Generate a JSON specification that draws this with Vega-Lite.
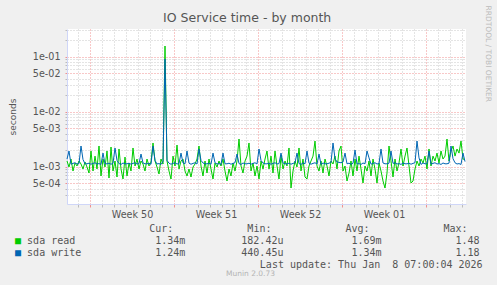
{
 "$schema": "https://vega.github.io/schema/vega-lite/v6.json",
 "background": "#F0F0F0",
 "padding": {"left": 8, "top": 5, "right": 6, "bottom": 7},
 "config": {"font": "DejaVu Sans", "view": {"stroke": null}},
 "datasets": {
  "boxes": [
   {"row": "read", "stat": "name", "series": "sda read", "label": "\u25a0"},
   {"row": "write", "stat": "name", "series": "sda write", "label": "\u25a0"}
  ],
  "stats": [
   {"row": "hdr", "stat": "Cur", "label": "Cur:"},
   {"row": "hdr", "stat": "Min", "label": "Min:"},
   {"row": "hdr", "stat": "Avg", "label": "Avg:"},
   {"row": "hdr", "stat": "Max", "label": "Max:"},
   {"row": "read", "stat": "name", "label": "sda read"},
   {"row": "read", "stat": "Cur", "label": "1.34m"},
   {"row": "read", "stat": "Min", "label": "182.42u"},
   {"row": "read", "stat": "Avg", "label": "1.69m"},
   {"row": "read", "stat": "Max", "label": "1.48"},
   {"row": "write", "stat": "name", "label": "sda write"},
   {"row": "write", "stat": "Cur", "label": "1.24m"},
   {"row": "write", "stat": "Min", "label": "440.45u"},
   {"row": "write", "stat": "Avg", "label": "1.34m"},
   {"row": "write", "stat": "Max", "label": "1.18"},
   {"row": "upd", "stat": "Max", "label": "Last update: Thu Jan \u00a08 07:00:04 2026"}
  ],
  "io": [
   {"t": "2025-12-06T02:00Z", "read": 1.27e-3, "write": 1.38e-3},
   {"t": "2025-12-06T06:00Z", "read": 9.87e-4, "write": 1.93e-3},
   {"t": "2025-12-06T10:00Z", "read": 1.38e-3, "write": 1.11e-3},
   {"t": "2025-12-06T14:00Z", "read": 8.35e-4, "write": 1.15e-3},
   {"t": "2025-12-06T18:00Z", "read": 1.17e-3, "write": 1.18e-3},
   {"t": "2025-12-06T22:00Z", "read": 1.03e-3, "write": 1.12e-3},
   {"t": "2025-12-07T02:00Z", "read": 1.27e-3, "write": 1.14e-3},
   {"t": "2025-12-07T06:00Z", "read": 1.12e-3, "write": 2.38e-3},
   {"t": "2025-12-07T10:00Z", "read": 9.08e-4, "write": 1.35e-3},
   {"t": "2025-12-07T14:00Z", "read": 1.22e-3, "write": 1.13e-3},
   {"t": "2025-12-07T18:00Z", "read": 9.87e-4, "write": 1.13e-3},
   {"t": "2025-12-07T22:00Z", "read": 7.68e-4, "write": 1.16e-3},
   {"t": "2025-12-08T02:00Z", "read": 1.93e-3, "write": 1.11e-3},
   {"t": "2025-12-08T06:00Z", "read": 8.35e-4, "write": 1.15e-3},
   {"t": "2025-12-08T10:00Z", "read": 1.56e-3, "write": 1.18e-3},
   {"t": "2025-12-08T14:00Z", "read": 9.08e-4, "write": 1.12e-3},
   {"t": "2025-12-08T18:00Z", "read": 2.38e-3, "write": 1.14e-3},
   {"t": "2025-12-08T22:00Z", "read": 6.78e-4, "write": 1.10e-3},
   {"t": "2025-12-09T02:00Z", "read": 1.38e-3, "write": 1.77e-3},
   {"t": "2025-12-09T06:00Z", "read": 9.87e-4, "write": 1.13e-3},
   {"t": "2025-12-09T10:00Z", "read": 1.93e-3, "write": 1.13e-3},
   {"t": "2025-12-09T14:00Z", "read": 6.23e-4, "write": 1.16e-3},
   {"t": "2025-12-09T18:00Z", "read": 2.28e-3, "write": 1.11e-3},
   {"t": "2025-12-09T22:00Z", "read": 8.35e-4, "write": 1.15e-3},
   {"t": "2025-12-10T02:00Z", "read": 1.27e-3, "write": 2.19e-3},
   {"t": "2025-12-10T06:00Z", "read": 6.50e-4, "write": 1.30e-3},
   {"t": "2025-12-10T10:00Z", "read": 2.10e-3, "write": 1.14e-3},
   {"t": "2025-12-10T14:00Z", "read": 9.08e-4, "write": 1.10e-3},
   {"t": "2025-12-10T18:00Z", "read": 5.98e-4, "write": 1.17e-3},
   {"t": "2025-12-10T22:00Z", "read": 1.50e-3, "write": 1.13e-3},
   {"t": "2025-12-11T02:00Z", "read": 6.78e-4, "write": 1.13e-3},
   {"t": "2025-12-11T06:00Z", "read": 1.17e-3, "write": 1.16e-3},
   {"t": "2025-12-11T10:00Z", "read": 8.35e-4, "write": 1.11e-3},
   {"t": "2025-12-11T14:00Z", "read": 2.19e-3, "write": 1.15e-3},
   {"t": "2025-12-11T18:00Z", "read": 1.03e-3, "write": 1.18e-3},
   {"t": "2025-12-11T22:00Z", "read": 1.38e-3, "write": 1.12e-3},
   {"t": "2025-12-12T02:00Z", "read": 9.08e-4, "write": 1.14e-3},
   {"t": "2025-12-12T06:00Z", "read": 1.27e-3, "write": 1.70e-3},
   {"t": "2025-12-12T10:00Z", "read": 1.12e-3, "write": 1.17e-3},
   {"t": "2025-12-12T14:00Z", "read": 8.35e-4, "write": 1.13e-3},
   {"t": "2025-12-12T18:00Z", "read": 1.38e-3, "write": 1.13e-3},
   {"t": "2025-12-12T22:00Z", "read": 1.03e-3, "write": 1.16e-3},
   {"t": "2025-12-13T02:00Z", "read": 1.22e-3, "write": 1.11e-3},
   {"t": "2025-12-13T06:00Z", "read": 2.70e-3, "write": 2.38e-3},
   {"t": "2025-12-13T10:00Z", "read": 1.27e-3, "write": 1.30e-3},
   {"t": "2025-12-13T14:00Z", "read": 9.87e-4, "write": 1.12e-3},
   {"t": "2025-12-13T18:00Z", "read": 7.37e-4, "write": 1.14e-3},
   {"t": "2025-12-13T22:00Z", "read": 1.38e-3, "write": 1.10e-3},
   {"t": "2025-12-14T02:00Z", "read": 1.12e-3, "write": 1.25e-3},
   {"t": "2025-12-14T06:00Z", "read": 0.1565, "write": 0.0908},
   {"t": "2025-12-14T10:00Z", "read": 1.27e-3, "write": 1.30e-3},
   {"t": "2025-12-14T14:00Z", "read": 8.35e-4, "write": 1.16e-3},
   {"t": "2025-12-14T18:00Z", "read": 5.98e-4, "write": 1.11e-3},
   {"t": "2025-12-14T22:00Z", "read": 1.56e-3, "write": 1.15e-3},
   {"t": "2025-12-15T02:00Z", "read": 1.03e-3, "write": 1.18e-3},
   {"t": "2025-12-15T06:00Z", "read": 2.48e-3, "write": 1.12e-3},
   {"t": "2025-12-15T10:00Z", "read": 9.08e-4, "write": 1.14e-3},
   {"t": "2025-12-15T14:00Z", "read": 1.27e-3, "write": 1.77e-3},
   {"t": "2025-12-15T18:00Z", "read": 1.38e-3, "write": 1.17e-3},
   {"t": "2025-12-15T22:00Z", "read": 8.35e-4, "write": 1.13e-3},
   {"t": "2025-12-16T02:00Z", "read": 6.78e-4, "write": 1.93e-3},
   {"t": "2025-12-16T06:00Z", "read": 9.08e-4, "write": 1.16e-3},
   {"t": "2025-12-16T10:00Z", "read": 6.50e-4, "write": 1.11e-3},
   {"t": "2025-12-16T14:00Z", "read": 9.87e-4, "write": 1.15e-3},
   {"t": "2025-12-16T18:00Z", "read": 1.12e-3, "write": 1.18e-3},
   {"t": "2025-12-16T22:00Z", "read": 1.38e-3, "write": 1.12e-3},
   {"t": "2025-12-17T02:00Z", "read": 2.38e-3, "write": 2.10e-3},
   {"t": "2025-12-17T06:00Z", "read": 1.03e-3, "write": 1.30e-3},
   {"t": "2025-12-17T10:00Z", "read": 6.78e-4, "write": 1.17e-3},
   {"t": "2025-12-17T14:00Z", "read": 1.27e-3, "write": 1.13e-3},
   {"t": "2025-12-17T18:00Z", "read": 7.68e-4, "write": 1.13e-3},
   {"t": "2025-12-17T22:00Z", "read": 1.38e-3, "write": 1.16e-3},
   {"t": "2025-12-18T02:00Z", "read": 9.08e-4, "write": 1.11e-3},
   {"t": "2025-12-18T06:00Z", "read": 5.98e-4, "write": 1.77e-3},
   {"t": "2025-12-18T10:00Z", "read": 1.17e-3, "write": 1.18e-3},
   {"t": "2025-12-18T14:00Z", "read": 9.87e-4, "write": 1.12e-3},
   {"t": "2025-12-18T18:00Z", "read": 1.27e-3, "write": 1.14e-3},
   {"t": "2025-12-18T22:00Z", "read": 1.03e-3, "write": 1.10e-3},
   {"t": "2025-12-19T02:00Z", "read": 1.38e-3, "write": 1.77e-3},
   {"t": "2025-12-19T06:00Z", "read": 8.35e-4, "write": 1.13e-3},
   {"t": "2025-12-19T10:00Z", "read": 5.50e-4, "write": 1.13e-3},
   {"t": "2025-12-19T14:00Z", "read": 9.08e-4, "write": 1.16e-3},
   {"t": "2025-12-19T18:00Z", "read": 6.78e-4, "write": 1.11e-3},
   {"t": "2025-12-19T22:00Z", "read": 1.17e-3, "write": 1.15e-3},
   {"t": "2025-12-20T02:00Z", "read": 8.35e-4, "write": 1.18e-3},
   {"t": "2025-12-20T06:00Z", "read": 1.27e-3, "write": 1.70e-3},
   {"t": "2025-12-20T10:00Z", "read": 3.19e-3, "write": 1.14e-3},
   {"t": "2025-12-20T14:00Z", "read": 1.03e-3, "write": 1.10e-3},
   {"t": "2025-12-20T18:00Z", "read": 7.68e-4, "write": 1.17e-3},
   {"t": "2025-12-20T22:00Z", "read": 1.27e-3, "write": 1.13e-3},
   {"t": "2025-12-21T02:00Z", "read": 1.56e-3, "write": 1.13e-3},
   {"t": "2025-12-21T06:00Z", "read": 2.70e-3, "write": 1.16e-3},
   {"t": "2025-12-21T10:00Z", "read": 8.35e-4, "write": 1.11e-3},
   {"t": "2025-12-21T14:00Z", "read": 1.17e-3, "write": 1.15e-3},
   {"t": "2025-12-21T18:00Z", "read": 6.78e-4, "write": 1.18e-3},
   {"t": "2025-12-21T22:00Z", "read": 1.03e-3, "write": 1.12e-3},
   {"t": "2025-12-22T02:00Z", "read": 5.98e-4, "write": 2.10e-3},
   {"t": "2025-12-22T06:00Z", "read": 1.27e-3, "write": 1.30e-3},
   {"t": "2025-12-22T10:00Z", "read": 9.08e-4, "write": 1.17e-3},
   {"t": "2025-12-22T14:00Z", "read": 1.38e-3, "write": 1.13e-3},
   {"t": "2025-12-22T18:00Z", "read": 1.93e-3, "write": 1.13e-3},
   {"t": "2025-12-22T22:00Z", "read": 9.08e-4, "write": 1.16e-3},
   {"t": "2025-12-23T02:00Z", "read": 1.56e-3, "write": 1.11e-3},
   {"t": "2025-12-23T06:00Z", "read": 7.68e-4, "write": 1.15e-3},
   {"t": "2025-12-23T10:00Z", "read": 1.93e-3, "write": 1.18e-3},
   {"t": "2025-12-23T14:00Z", "read": 1.03e-3, "write": 1.12e-3},
   {"t": "2025-12-23T18:00Z", "read": 5.98e-4, "write": 1.14e-3},
   {"t": "2025-12-23T22:00Z", "read": 1.56e-3, "write": 1.77e-3},
   {"t": "2025-12-24T02:00Z", "read": 9.08e-4, "write": 1.17e-3},
   {"t": "2025-12-24T06:00Z", "read": 1.27e-3, "write": 1.13e-3},
   {"t": "2025-12-24T10:00Z", "read": 1.03e-3, "write": 1.13e-3},
   {"t": "2025-12-24T14:00Z", "read": 2.19e-3, "write": 1.16e-3},
   {"t": "2025-12-24T18:00Z", "read": 4.10e-4, "write": 1.11e-3},
   {"t": "2025-12-24T22:00Z", "read": 8.35e-4, "write": 1.15e-3},
   {"t": "2025-12-25T02:00Z", "read": 1.27e-3, "write": 1.18e-3},
   {"t": "2025-12-25T06:00Z", "read": 9.87e-4, "write": 1.77e-3},
   {"t": "2025-12-25T10:00Z", "read": 2.19e-3, "write": 1.14e-3},
   {"t": "2025-12-25T14:00Z", "read": 8.35e-4, "write": 1.10e-3},
   {"t": "2025-12-25T18:00Z", "read": 1.38e-3, "write": 1.17e-3},
   {"t": "2025-12-25T22:00Z", "read": 6.50e-4, "write": 1.13e-3},
   {"t": "2025-12-26T02:00Z", "read": 5.98e-4, "write": 1.93e-3},
   {"t": "2025-12-26T06:00Z", "read": 1.03e-3, "write": 1.16e-3},
   {"t": "2025-12-26T10:00Z", "read": 1.27e-3, "write": 1.11e-3},
   {"t": "2025-12-26T14:00Z", "read": 1.56e-3, "write": 1.15e-3},
   {"t": "2025-12-26T18:00Z", "read": 2.93e-3, "write": 1.18e-3},
   {"t": "2025-12-26T22:00Z", "read": 1.03e-3, "write": 1.12e-3},
   {"t": "2025-12-27T02:00Z", "read": 8.35e-4, "write": 1.70e-3},
   {"t": "2025-12-27T06:00Z", "read": 1.27e-3, "write": 1.10e-3},
   {"t": "2025-12-27T10:00Z", "read": 7.68e-4, "write": 1.17e-3},
   {"t": "2025-12-27T14:00Z", "read": 1.38e-3, "write": 1.13e-3},
   {"t": "2025-12-27T18:00Z", "read": 1.03e-3, "write": 1.13e-3},
   {"t": "2025-12-27T22:00Z", "read": 6.78e-4, "write": 1.16e-3},
   {"t": "2025-12-28T02:00Z", "read": 1.27e-3, "write": 1.20e-3},
   {"t": "2025-12-28T06:00Z", "read": 1.12e-3, "write": 2.70e-3},
   {"t": "2025-12-28T10:00Z", "read": 1.56e-3, "write": 1.40e-3},
   {"t": "2025-12-28T14:00Z", "read": 9.08e-4, "write": 1.22e-3},
   {"t": "2025-12-28T18:00Z", "read": 1.93e-3, "write": 1.20e-3},
   {"t": "2025-12-28T22:00Z", "read": 2.38e-3, "write": 1.18e-3},
   {"t": "2025-12-29T02:00Z", "read": 8.35e-4, "write": 1.22e-3},
   {"t": "2025-12-29T06:00Z", "read": 1.03e-3, "write": 1.77e-3},
   {"t": "2025-12-29T10:00Z", "read": 5.50e-4, "write": 1.13e-3},
   {"t": "2025-12-29T14:00Z", "read": 7.68e-4, "write": 1.16e-3},
   {"t": "2025-12-29T18:00Z", "read": 1.27e-3, "write": 1.11e-3},
   {"t": "2025-12-29T22:00Z", "read": 6.78e-4, "write": 1.15e-3},
   {"t": "2025-12-30T02:00Z", "read": 1.38e-3, "write": 2.01e-3},
   {"t": "2025-12-30T06:00Z", "read": 8.35e-4, "write": 1.12e-3},
   {"t": "2025-12-30T10:00Z", "read": 1.56e-3, "write": 1.14e-3},
   {"t": "2025-12-30T14:00Z", "read": 9.08e-4, "write": 1.10e-3},
   {"t": "2025-12-30T18:00Z", "read": 5.05e-4, "write": 1.17e-3},
   {"t": "2025-12-30T22:00Z", "read": 1.03e-3, "write": 1.13e-3},
   {"t": "2025-12-31T02:00Z", "read": 8.35e-4, "write": 1.93e-3},
   {"t": "2025-12-31T06:00Z", "read": 1.27e-3, "write": 1.45e-3},
   {"t": "2025-12-31T10:00Z", "read": 6.78e-4, "write": 1.11e-3},
   {"t": "2025-12-31T14:00Z", "read": 1.38e-3, "write": 1.15e-3},
   {"t": "2025-12-31T18:00Z", "read": 9.08e-4, "write": 1.18e-3},
   {"t": "2025-12-31T22:00Z", "read": 5.05e-4, "write": 1.12e-3},
   {"t": "2026-01-01T02:00Z", "read": 1.17e-3, "write": 1.14e-3},
   {"t": "2026-01-01T06:00Z", "read": 8.35e-4, "write": 2.10e-3},
   {"t": "2026-01-01T10:00Z", "read": 5.50e-4, "write": 1.17e-3},
   {"t": "2026-01-01T14:00Z", "read": 4.10e-4, "write": 1.13e-3},
   {"t": "2026-01-01T18:00Z", "read": 7.68e-4, "write": 1.13e-3},
   {"t": "2026-01-01T22:00Z", "read": 2.38e-3, "write": 1.16e-3},
   {"t": "2026-01-02T02:00Z", "read": 1.27e-3, "write": 1.93e-3},
   {"t": "2026-01-02T06:00Z", "read": 6.50e-4, "write": 1.15e-3},
   {"t": "2026-01-02T10:00Z", "read": 1.38e-3, "write": 1.18e-3},
   {"t": "2026-01-02T14:00Z", "read": 8.35e-4, "write": 1.12e-3},
   {"t": "2026-01-02T18:00Z", "read": 1.17e-3, "write": 1.14e-3},
   {"t": "2026-01-02T22:00Z", "read": 2.10e-3, "write": 1.10e-3},
   {"t": "2026-01-03T02:00Z", "read": 1.03e-3, "write": 1.17e-3},
   {"t": "2026-01-03T06:00Z", "read": 1.56e-3, "write": 1.13e-3},
   {"t": "2026-01-03T10:00Z", "read": 2.19e-3, "write": 1.13e-3},
   {"t": "2026-01-03T14:00Z", "read": 1.03e-3, "write": 1.16e-3},
   {"t": "2026-01-03T18:00Z", "read": 5.05e-4, "write": 1.11e-3},
   {"t": "2026-01-03T22:00Z", "read": 5.50e-4, "write": 1.15e-3},
   {"t": "2026-01-04T02:00Z", "read": 9.08e-4, "write": 1.18e-3},
   {"t": "2026-01-04T06:00Z", "read": 1.27e-3, "write": 2.93e-3},
   {"t": "2026-01-04T10:00Z", "read": 1.03e-3, "write": 1.45e-3},
   {"t": "2026-01-04T14:00Z", "read": 1.38e-3, "write": 1.10e-3},
   {"t": "2026-01-04T18:00Z", "read": 1.17e-3, "write": 1.17e-3},
   {"t": "2026-01-04T22:00Z", "read": 1.56e-3, "write": 1.13e-3},
   {"t": "2026-01-05T02:00Z", "read": 9.08e-4, "write": 1.13e-3},
   {"t": "2026-01-05T06:00Z", "read": 2.10e-3, "write": 1.93e-3},
   {"t": "2026-01-05T10:00Z", "read": 1.03e-3, "write": 1.11e-3},
   {"t": "2026-01-05T14:00Z", "read": 1.56e-3, "write": 1.15e-3},
   {"t": "2026-01-05T18:00Z", "read": 1.27e-3, "write": 1.18e-3},
   {"t": "2026-01-05T22:00Z", "read": 1.77e-3, "write": 1.12e-3},
   {"t": "2026-01-06T02:00Z", "read": 1.17e-3, "write": 1.14e-3},
   {"t": "2026-01-06T06:00Z", "read": 1.93e-3, "write": 1.10e-3},
   {"t": "2026-01-06T10:00Z", "read": 1.38e-3, "write": 1.17e-3},
   {"t": "2026-01-06T14:00Z", "read": 1.56e-3, "write": 1.13e-3},
   {"t": "2026-01-06T18:00Z", "read": 3.19e-3, "write": 1.13e-3},
   {"t": "2026-01-06T22:00Z", "read": 1.27e-3, "write": 1.16e-3},
   {"t": "2026-01-07T02:00Z", "read": 1.93e-3, "write": 2.38e-3},
   {"t": "2026-01-07T06:00Z", "read": 2.38e-3, "write": 1.40e-3},
   {"t": "2026-01-07T10:00Z", "read": 1.56e-3, "write": 1.18e-3},
   {"t": "2026-01-07T14:00Z", "read": 2.10e-3, "write": 1.12e-3},
   {"t": "2026-01-07T18:00Z", "read": 1.77e-3, "write": 1.14e-3},
   {"t": "2026-01-07T22:00Z", "read": 2.93e-3, "write": 1.10e-3},
   {"t": "2026-01-08T02:00Z", "read": 1.38e-3, "write": 1.77e-3},
   {"t": "2026-01-08T06:00Z", "read": 1.34e-3, "write": 1.24e-3}
  ]
 },
 "title": {"text": "RRDTOOL / TOBI OETIKER", "orient": "right", "anchor": "start", "angle": 90, "font": "DejaVu Sans", "fontSize": 7.5, "fontWeight": "normal", "color": "#BBBBBB", "offset": -2, "dx": -6.5},
 "vconcat": [
  {
   "title": {"text": "IO Service time - by month", "anchor": "middle", "frame": "bounds", "font": "DejaVu Sans", "fontSize": 12.5, "fontWeight": "normal", "color": "#555555", "offset": 1},
   "spacing": 5,
   "resolve": {"scale": {"color": "independent"}, "legend": {"color": "independent"}},
   "vconcat": [
    {
     "width": 399,
     "height": 175,
     "view": {"fill": "#FFFFFF", "stroke": null},
     "data": {"name": "io"},
     "transform": [{"fold": ["read", "write"], "as": ["series", "v"]}],
     "mark": {"type": "line", "strokeWidth": 1},
     "encoding": {
      "x": {
       "field": "t", "type": "temporal",
       "scale": {"type": "utc", "domain": [1764986400000, 1767859200000], "nice": false},
       "axis": {
        "title": null,
        "values": [1765065600000, 1765152000000, 1765238400000, 1765324800000, 1765411200000, 1765454400000, 1765497600000, 1765584000000, 1765670400000, 1765756800000, 1765843200000, 1765929600000, 1766016000000, 1766059200000, 1766102400000, 1766188800000, 1766275200000, 1766361600000, 1766448000000, 1766534400000, 1766620800000, 1766664000000, 1766707200000, 1766793600000, 1766880000000, 1766966400000, 1767052800000, 1767139200000, 1767225600000, 1767268800000, 1767312000000, 1767398400000, 1767484800000, 1767571200000, 1767657600000, 1767744000000, 1767830400000],
        "labelExpr": "utchours(datum.value) == 12 ? 'Week ' + utcFormat(datum.value, '%V') : ''",
        "labelFont": "DejaVu Sans", "labelFontSize": 9.6, "labelColor": "#555555", "labelPadding": 2,
        "labelOverlap": false, "labelFlush": false,
        "domainColor": "#CFD6F8",
        "tickSize": 3,
        "tickColor": {"condition": {"test": "utcday(datum.value) == 1", "value": "#F09090"}, "value": "#BBBBBB"},
        "tickOpacity": {"condition": {"test": "utchours(datum.value) == 12", "value": 0}, "value": 1},
        "grid": true,
        "gridDash": [1, 2],
        "gridColor": {"condition": {"test": "utcday(datum.value) == 1", "value": "#F09090"}, "value": "#C8C8C8"},
        "gridOpacity": {"condition": {"test": "utchours(datum.value) == 12", "value": 0}, "value": 1}
       }
      },
      "y": {
       "field": "v", "type": "quantitative",
       "scale": {"type": "log", "domain": [0.00021, 0.319], "nice": false},
       "axis": {
        "title": "seconds", "titleFont": "DejaVu Sans", "titleFontSize": 9, "titleFontWeight": "normal", "titleColor": "#555555", "titlePadding": 15,
        "values": [0.0003, 0.0004, 0.0005, 0.0006, 0.0007, 0.0008, 0.0009, 0.001, 0.002, 0.003, 0.004, 0.005, 0.006, 0.007, 0.008, 0.009, 0.01, 0.02, 0.03, 0.04, 0.05, 0.06, 0.07, 0.08, 0.09, 0.1, 0.2, 0.3],
        "labelExpr": "datum.value == 0.1 ? '1e-01' : datum.value == 0.05 ? '5e-02' : datum.value == 0.01 ? '1e-02' : datum.value == 0.005 ? '5e-03' : datum.value == 0.001 ? '1e-03' : datum.value == 0.0005 ? '5e-04' : ''",
        "labelFont": "DejaVu Sans", "labelFontSize": 9.6, "labelColor": "#555555", "labelPadding": 5,
        "labelOverlap": false, "labelFlush": false,
        "domainColor": "#CFD6F8",
        "tickSize": 2,
        "tickColor": {"condition": {"test": "indexof([0.0005, 0.001, 0.005, 0.01, 0.05, 0.1], datum.value) >= 0", "value": "#F09090"}, "value": "#BBBBBB"},
        "grid": true,
        "gridDash": [1, 2],
        "gridColor": {"condition": {"test": "indexof([0.0005, 0.001, 0.005, 0.01, 0.05, 0.1], datum.value) >= 0", "value": "#F09090"}, "value": "#C8C8C8"}
       }
      },
      "color": {"field": "series", "type": "nominal", "scale": {"domain": ["read", "write"], "range": ["#00CC00", "#0066B3"]}, "legend": null}
     }
    },
    {
     "width": 419,
     "height": 40,
     "title": {"text": "Munin 2.0.73", "orient": "bottom", "anchor": "middle", "frame": "bounds", "font": "DejaVu Sans", "fontSize": 7.5, "fontWeight": "normal", "color": "#B4B4B4", "offset": 0},
     "encoding": {
      "x": {"field": "stat", "type": "nominal", "scale": {"type": "point", "domain": ["name", "Cur", "Min", "Avg", "Max"], "range": [26.3, 418.6], "padding": 0}, "axis": null},
      "y": {"field": "row", "type": "nominal", "scale": {"type": "point", "domain": ["hdr", "read", "write", "upd"], "range": [-1, 35], "padding": 0}, "axis": null},
      "text": {"field": "label"}
     },
     "layer": [
      {
       "data": {"name": "boxes"},
       "mark": {"type": "text", "align": "left", "baseline": "middle", "font": "DejaVu Sans Mono", "fontSize": 10, "dx": -78.3},
       "encoding": {
        "color": {"field": "series", "type": "nominal", "scale": {"domain": ["sda read", "sda write"], "range": ["#00CC00", "#0066B3"]}, "legend": null}
       }
      },
      {
       "data": {"name": "stats"},
       "transform": [{"filter": "datum.stat == 'name'"}],
       "mark": {"type": "text", "align": "left", "baseline": "middle", "font": "DejaVu Sans Mono", "fontSize": 10, "color": "#555555", "dx": -66.2}
      },
      {
       "data": {"name": "stats"},
       "transform": [{"filter": "datum.row == 'hdr'"}],
       "mark": {"type": "text", "align": "right", "baseline": "middle", "font": "DejaVu Sans Mono", "fontSize": 10, "color": "#555555", "dx": -18}
      },
      {
       "data": {"name": "stats"},
       "transform": [{"filter": "(datum.row == 'read' || datum.row == 'write') && datum.stat != 'name'"}],
       "mark": {"type": "text", "align": "right", "baseline": "middle", "font": "DejaVu Sans Mono", "fontSize": 10, "color": "#555555", "dx": -6}
      },
      {
       "data": {"name": "stats"},
       "transform": [{"filter": "datum.row == 'upd'"}],
       "mark": {"type": "text", "align": "right", "baseline": "middle", "font": "DejaVu Sans Mono", "fontSize": 10, "color": "#555555", "dx": -3}
      }
     ]
    }
   ]
  }
 ]
}
